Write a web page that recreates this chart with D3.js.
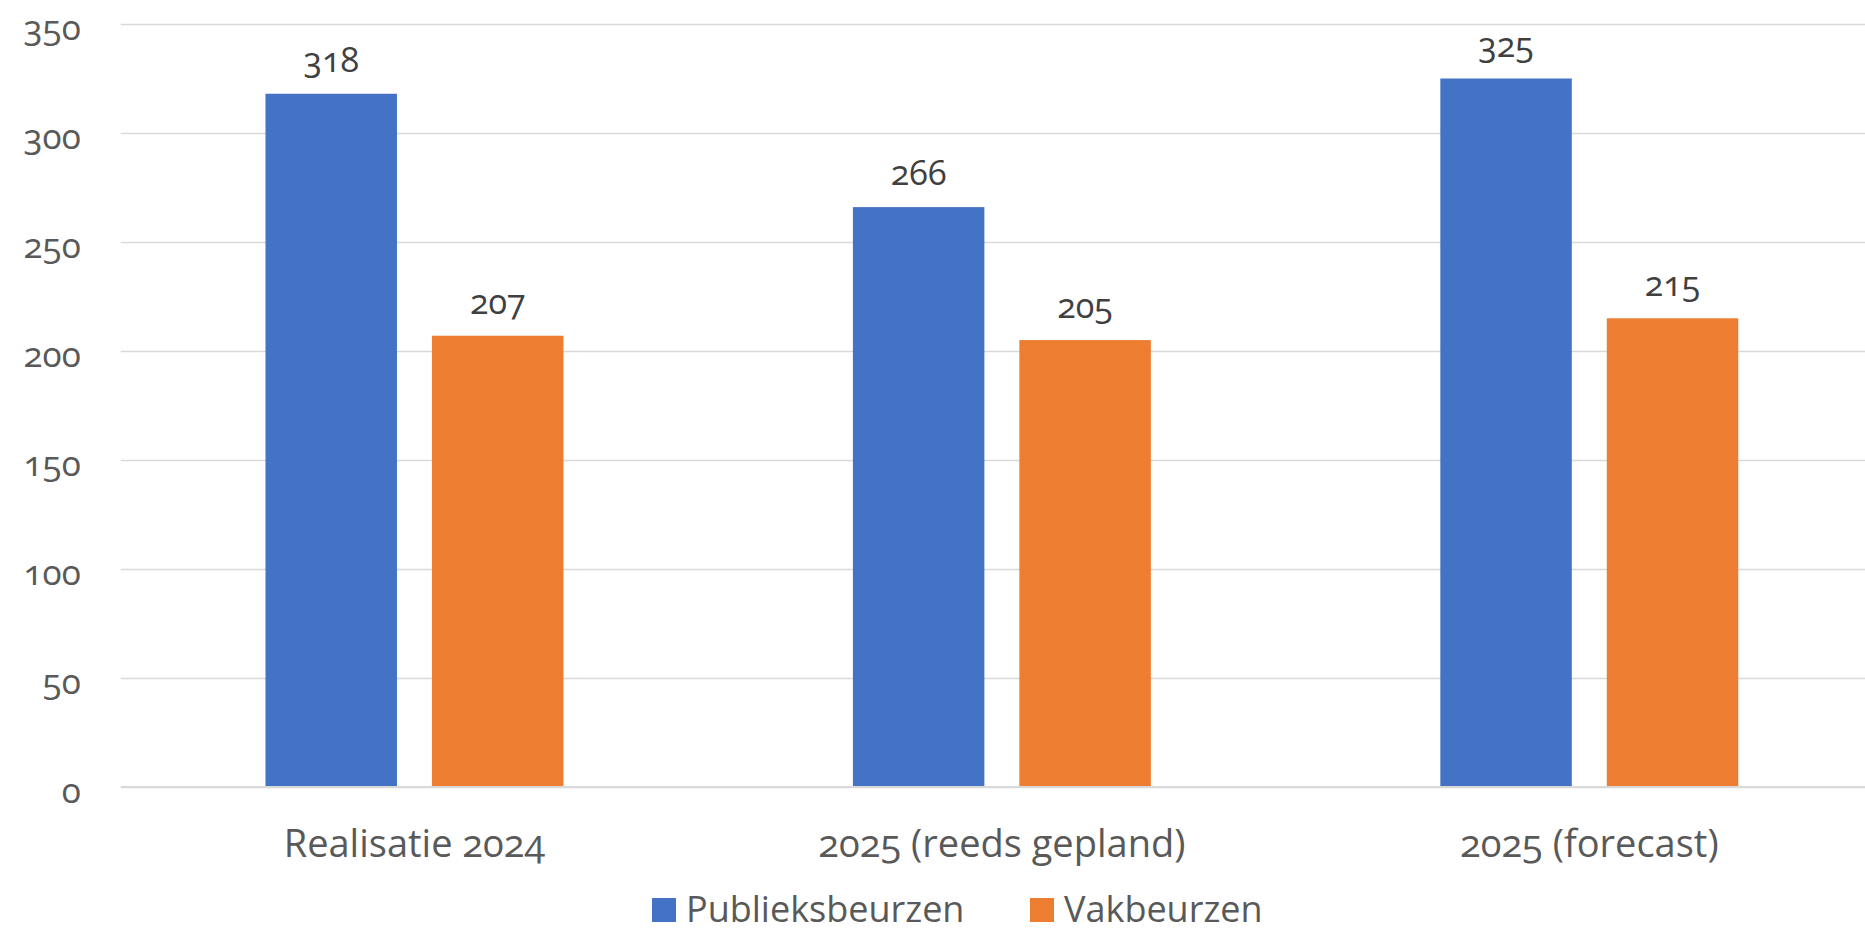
<!DOCTYPE html>
<html>
<head>
<meta charset="utf-8">
<script src="https://cdn.jsdelivr.net/npm/d3@7/dist/d3.min.js"></script>
<style>
  html, body { margin: 0; padding: 0; background: #fff; }
  svg { display: block; }
  text { font-family: "Open Sans", "Noto Sans", sans-serif; font-variant-numeric: oldstyle-nums; }
</style>
</head>
<body>
<svg id="chart" width="1865" height="934"></svg>
<script>
const categories = ["Realisatie 2024", "2025 (reeds gepland)", "2025 (forecast)"];
const seriesNames = ["Publieksbeurzen", "Vakbeurzen"];
const publieksbeurzen = [318, 266, 325];
const vakbeurzen = [207, 205, 215];
const yTicks = [0, 50, 100, 150, 200, 250, 300, 350];
const colors = ["#4472C4", "#ED7D31"];

const seriesValues = [publieksbeurzen, vakbeurzen];
const svg = d3.select("#chart");

const plotLeft = 120.75, plotRight = 1883, y0 = 787, yTop = 24;

const y = d3.scaleLinear().domain([0, 350]).range([y0, yTop]);
const x0 = d3.scaleBand().domain(categories).range([plotLeft, plotRight])
  .paddingInner(0.4928).paddingOuter(0.2464);
const x1 = d3.scaleBand().domain(seriesNames).range([0, x0.bandwidth()])
  .paddingInner(0.2102).paddingOuter(0);

// gridlines
const yAxis = d3.axisLeft(y).tickValues(yTicks).tickSize(-(1865 - plotLeft)).tickFormat(d3.format("d")).tickPadding(40);
const gAxis = svg.append("g").attr("transform", `translate(${plotLeft},0)`).call(yAxis);
gAxis.select(".domain").remove();
gAxis.selectAll(".tick line").attr("stroke", "#d9d9d9").attr("stroke-width", 1.5);
gAxis.selectAll(".tick text")
  .attr("fill", "#595959").attr("font-size", 35).attr("dy", "0.45em");

// bars
const groups = svg.append("g").selectAll("g").data(categories).join("g")
  .attr("transform", d => `translate(${x0(d)},0)`);

groups.selectAll("rect").data((d, i) => seriesNames.map((s, j) => ({s, v: seriesValues[j][i], j})))
  .join("rect")
  .attr("x", d => x1(d.s))
  .attr("width", x1.bandwidth())
  .attr("y", d => y(d.v))
  .attr("height", d => y0 - y(d.v))
  .attr("fill", d => colors[d.j]);

groups.selectAll("text.lbl").data((d, i) => seriesNames.map((s, j) => ({s, v: seriesValues[j][i], j})))
  .join("text").attr("class", "lbl")
  .attr("x", d => x1(d.s) + x1.bandwidth() / 2)
  .attr("y", d => y(d.v) - 22)
  .attr("text-anchor", "middle")
  .attr("font-size", 34)
  .attr("fill", "#404040")
  .text(d => d.v);

// baseline
svg.append("line").attr("x1", plotLeft).attr("x2", 1865).attr("y1", y0).attr("y2", y0)
  .attr("stroke", "#d9d9d9").attr("stroke-width", 2);

// category labels
const xAxis = d3.axisBottom(x0).tickSize(0).tickPadding(0);
const gx = svg.append("g").attr("transform", `translate(0,${y0})`).call(xAxis);
gx.select(".domain").remove();
gx.selectAll(".tick text").attr("y", 70).attr("dy", 0)
  .attr("fill", "#595959").attr("font-size", 38);

// legend
const legendItems = [{name: seriesNames[0], x: 652}, {name: seriesNames[1], x: 1030}];
const lg = svg.append("g").selectAll("g").data(legendItems).join("g")
  .attr("transform", d => `translate(${d.x},898)`);
lg.append("rect").attr("width", 24).attr("height", 24).attr("fill", (d, i) => colors[i]);
lg.append("text").attr("x", 34).attr("y", 24).attr("fill", "#595959").attr("font-size", 36).text(d => d.name);
</script>
</body>
</html>
